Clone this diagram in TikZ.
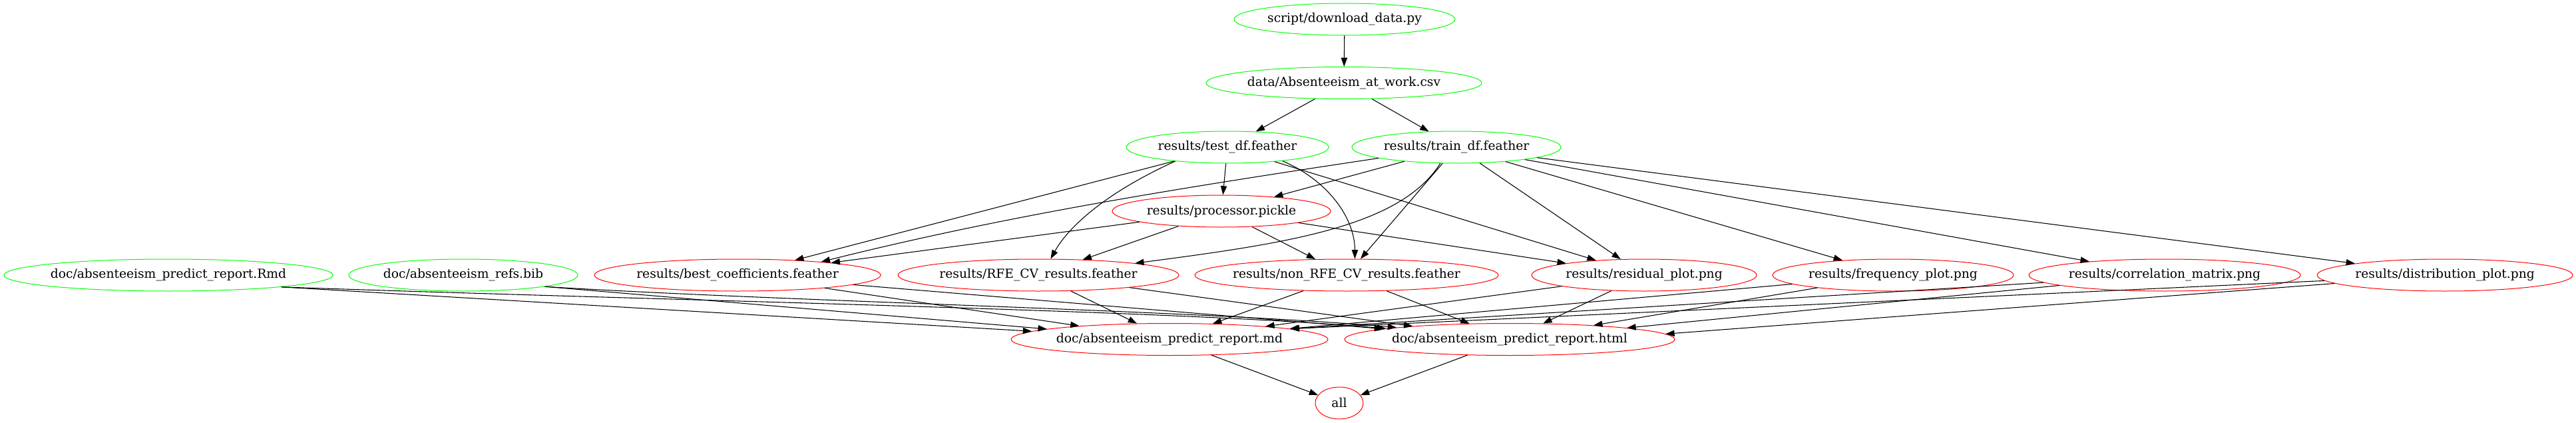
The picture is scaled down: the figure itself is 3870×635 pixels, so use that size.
\documentclass[tikz,border=0pt]{standalone}
\usepackage{fontspec}
\setmainfont{DejaVu Serif}
\usetikzlibrary{shapes.geometric,arrows.meta}
\newcommand{\lb}[1]{\makebox[0pt]{#1}}
\definecolor{gvgreen}{RGB}{0,255,0}
\definecolor{gvred}{RGB}{255,0,0}
\begin{document}
\begin{tikzpicture}[x=0.75pt,y=0.75pt,
  gnode/.style={ellipse, draw, line width=0.75pt, inner sep=0pt, minimum height=36pt,
    font=\fontsize{14pt}{17pt}\selectfont},
  src/.style={gnode, draw=gvgreen},
  tgt/.style={gnode, draw=gvred},
  e/.style={line width=0.8pt, draw=black, -{Triangle[length=10pt,width=7pt]}}]
\useasboundingbox (0,0) rectangle (3870,-635);
% row 1-3
\node[src, minimum width=249pt]   (script) at (2020,-29)    {\lb{script/download\_data.py}};
\node[src, minimum width=310.5pt] (csv)    at (2019,-124.5) {\lb{data/Absenteeism\_at\_work.csv}};
\node[src, minimum width=228pt]   (test)   at (1844,-221)   {\lb{results/test\_df.feather}};
\node[src, minimum width=235.5pt] (train)  at (2188,-221)   {\lb{results/train\_df.feather}};
\node[tgt, minimum width=246pt]   (proc)   at (1835,-317)   {\lb{results/processor.pickle}};
% row 4
\node[src, minimum width=370.5pt] (rmd)    at (253,-413)  {\lb{doc/absenteeism\_predict\_report.Rmd}};
\node[src, minimum width=258pt]   (bib)    at (696,-413)  {\lb{doc/absenteeism\_refs.bib}};
\node[tgt, minimum width=322.5pt] (best)   at (1108,-413) {\lb{results/best\_coefficients.feather}};
\node[tgt, minimum width=316.5pt] (rfe)    at (1560,-413) {\lb{results/RFE\_CV\_results.feather}};
\node[tgt, minimum width=342pt]   (nonrfe) at (2023,-413) {\lb{results/non\_RFE\_CV\_results.feather}};
\node[tgt, minimum width=253.5pt] (resid)  at (2470,-413) {\lb{results/residual\_plot.png}};
\node[tgt, minimum width=271.5pt] (freq)   at (2844,-413) {\lb{results/frequency\_plot.png}};
\node[tgt, minimum width=306pt]   (corr)   at (3252,-413) {\lb{results/correlation\_matrix.png}};
\node[tgt, minimum width=288pt]   (dist)   at (3673,-413) {\lb{results/distribution\_plot.png}};
% row 5-6
\node[tgt, minimum width=357pt]   (md)     at (1757,-509.5) {\lb{doc/absenteeism\_predict\_report.md}};
\node[tgt, minimum width=372pt]   (html)   at (2268,-509.5) {\lb{doc/absenteeism\_predict\_report.html}};
\node[tgt, minimum width=54pt]    (all)    at (2012,-605)   {\lb{all}};
% edges
\draw[e] (script) -- (csv);
\draw[e] (csv) -- (test);
\draw[e] (csv) -- (train);
\draw[e] (test) -- (proc);
\draw[e] (train) -- (proc);
\draw[e] (test) -- (best);
\draw[e] (train.-172) .. controls +(-300,-45) and +(280,70) .. (best.9);
\draw[e] (proc) -- (best);
\draw[e] (test.-165) .. controls +(-110,-50) and +(25,45) .. (rfe.53);
\draw[e] (train.-135) .. controls +(-60,-95) and +(230,30) .. (rfe.7);
\draw[e] (proc) -- (rfe);
\draw[e] (test.-14) .. controls +(70,-30) and +(0,60) .. (nonrfe.63);
\draw[e] (train) -- (nonrfe);
\draw[e] (proc) -- (nonrfe);
\draw[e] (test) -- (resid);
\draw[e] (train) -- (resid);
\draw[e] (proc) -- (resid);
\draw[e] (train) -- (freq);
\draw[e] (train) -- (corr);
\draw[e] (train) -- (dist);
% into reports
\draw[e] (rmd.-6) -- (md);
\draw[e] (rmd.-6) .. controls +(600,-21) and +(-300,27) .. (html.175);
\draw[e] (bib.-8) -- (md);
\draw[e] (bib.-8) .. controls +(350,-22) and +(-300,26) .. (html.174);
\draw[e] (best) -- (md);
\draw[e] (best) -- (html);
\draw[e] (rfe) -- (md);
\draw[e] (rfe) -- (html);
\draw[e] (nonrfe) -- (md);
\draw[e] (nonrfe) -- (html);
\draw[e] (resid) -- (md);
\draw[e] (resid) -- (html);
\draw[e] (freq) -- (md);
\draw[e] (freq) -- (html);
\draw[e] (corr) -- (md.5);
\draw[e] (corr) -- (html);
\draw[e] (dist) -- (md.5);
\draw[e] (dist) -- (html.2);
\draw[e] (md) -- (all);
\draw[e] (html) -- (all);
\end{tikzpicture}
\end{document}
